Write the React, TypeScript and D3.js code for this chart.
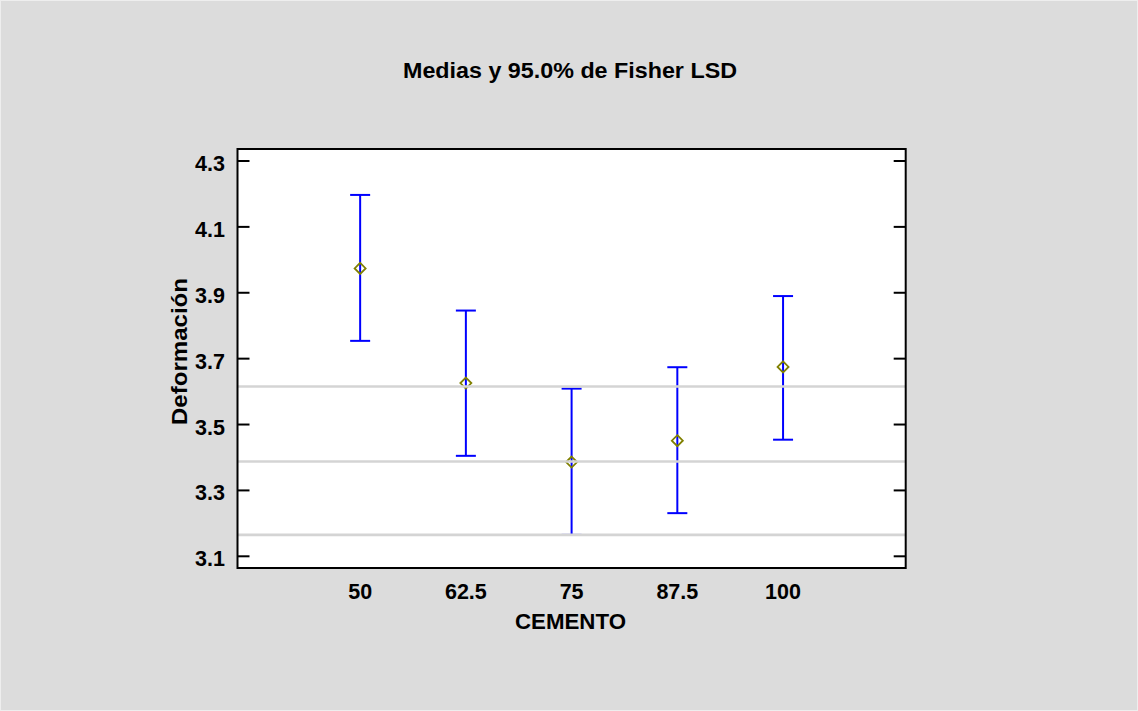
import React from "react";
import * as d3 from "d3";

const categories = [50, 62.5, 75, 87.5, 100];
const means = [3.974, 3.626, 3.386, 3.451, 3.675];
const lower = [3.754, 3.405, 3.165, 3.231, 3.454];
const upper = [4.197, 3.846, 3.609, 3.674, 3.890];
const refLines = [3.6155, 3.388, 3.165];
const yTicks = [3.1, 3.3, 3.5, 3.7, 3.9, 4.1, 4.3];
const title = "Medias y 95.0% de Fisher LSD";
const xLabel = "CEMENTO";
const yLabel = "Deformación";

const W = 1138;
const H = 711;
const L = 237.5, R = 905.7, T = 149, B = 568;

export default function App() {
  const x = d3.scaleLinear().domain([35.5, 114.5]).range([L, R]);
  const y = d3.scaleLinear().domain([3.1, 4.3]).range([556.3, 161]);
  const font = "'Liberation Sans', Arial, sans-serif";
  const diamond = (cx: number, cy: number, r: number) =>
    `M${cx},${cy - r}L${cx + r},${cy}L${cx},${cy + r}L${cx - r},${cy}Z`;
  return (
    <svg
      width={W}
      height={H}
      style={{ position: "absolute", left: 0, top: 0, display: "block" }}
    >
      <rect x={0} y={0} width={W} height={H} fill="#dcdcdc" />
      <rect x={0.5} y={0.5} width={W - 1} height={H - 1} fill="none" stroke="#eeeeee" strokeWidth={1} />
      <text
        x={570}
        y={77.5}
        textAnchor="middle"
        fontFamily={font}
        fontWeight="bold"
        fontSize={22}
        textLength={334}
        lengthAdjust="spacingAndGlyphs"
      >
        {title}
      </text>
      <rect x={L} y={T} width={R - L} height={B - T} fill="#ffffff" />
      {categories.map((c, i) => {
        const cx = x(c);
        return (
          <g key={"eb" + i} stroke="#0000ff" strokeWidth={2}>
            <line x1={cx} x2={cx} y1={y(upper[i])} y2={y(lower[i])} />
            <line x1={cx - 10} x2={cx + 10} y1={y(upper[i])} y2={y(upper[i])} />
            <line x1={cx - 10} x2={cx + 10} y1={y(lower[i])} y2={y(lower[i])} />
          </g>
        );
      })}
      {categories.map((c, i) => (
        <path
          key={"m" + i}
          d={diamond(x(c), y(means[i]), 5.5)}
          fill="none"
          stroke="#808000"
          strokeWidth={1.8}
        />
      ))}
      {refLines.map((v, i) => (
        <line
          key={"r" + i}
          x1={L}
          x2={R}
          y1={y(v)}
          y2={y(v)}
          stroke="#d4d4d4"
          strokeWidth={2.6}
        />
      ))}
      <rect x={L} y={T} width={R - L} height={B - T} fill="none" stroke="#000" strokeWidth={2} />
      {yTicks.map((t) => (
        <g key={"yt" + t}>
          <line x1={L} x2={L + 12} y1={y(t)} y2={y(t)} stroke="#000" strokeWidth={2} />
          <line x1={R - 12} x2={R} y1={y(t)} y2={y(t)} stroke="#000" strokeWidth={2} />
          <text
            x={225}
            y={y(t) + 10}
            textAnchor="end"
            fontFamily={font}
            fontWeight="bold"
            fontSize={21.5}
          >
            {t.toFixed(1)}
          </text>
        </g>
      ))}
      {categories.map((c) => (
        <text
          key={"xt" + c}
          x={x(c)}
          y={598.5}
          textAnchor="middle"
          fontFamily={font}
          fontWeight="bold"
          fontSize={21.5}
        >
          {String(c)}
        </text>
      ))}
      <text
        x={570.5}
        y={628.5}
        textAnchor="middle"
        fontFamily={font}
        fontWeight="bold"
        fontSize={22}
        textLength={111}
        lengthAdjust="spacingAndGlyphs"
      >
        {xLabel}
      </text>
      <text
        transform={`translate(187,351.5) rotate(-90)`}
        textAnchor="middle"
        fontFamily={font}
        fontWeight="bold"
        fontSize={22}
        textLength={147}
        lengthAdjust="spacingAndGlyphs"
      >
        {yLabel}
      </text>
    </svg>
  );
}
